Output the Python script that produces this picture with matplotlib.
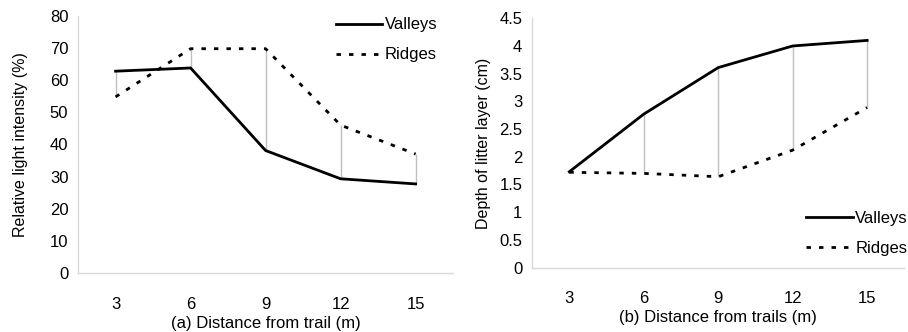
import matplotlib.pyplot as plt
import numpy as np

plt.rcParams["font.family"] = ["Liberation Sans", "DejaVu Sans"]

# Data
distances = ["3", "6", "9", "12", "15"]
light_valleys = [62.8, 63.8, 38.1, 29.3, 27.7]
light_ridges = [54.8, 69.8, 69.8, 46.0, 37.0]
litter_valleys = [1.73, 2.77, 3.61, 4.00, 4.10]
litter_ridges = [1.72, 1.70, 1.64, 2.12, 2.89]

GRID = "#bfbfbf"
DASH = (0, (1.6, 2.9))


def draw_panel(ax, valleys, ridges, ylim, yticks, ylabel, xlabel,
               legend_loc, legend_anchor, ylabelpad):
    x = np.arange(len(distances))
    # high-low lines between series
    ax.vlines(x, np.minimum(valleys, ridges), np.maximum(valleys, ridges),
              color=GRID, linewidth=1, zorder=1)
    ax.plot(x, valleys, color="black", linewidth=2, label="Valleys", zorder=3)
    ax.plot(x, ridges, color="black", linewidth=2, linestyle=DASH,
            label="Ridges", zorder=3)

    ax.set_xlim(-0.5, len(distances) - 0.5)
    ax.set_ylim(*ylim)
    ax.set_yticks(yticks)
    ax.set_yticklabels([f"{v:g}" for v in yticks])
    ax.set_xticks(x)
    ax.set_xticklabels(distances)
    ax.tick_params(length=0, labelsize=12, pad=7)
    ax.tick_params(axis="x", pad=17)
    for side in ["top", "right"]:
        ax.spines[side].set_visible(False)
    for side in ["left", "bottom"]:
        ax.spines[side].set_color("#d9d9d9")
        ax.spines[side].set_linewidth(1)
    ax.set_ylabel(ylabel, fontsize=11.5, labelpad=ylabelpad)
    ax.set_xlabel(xlabel, fontsize=12, labelpad=3)
    ax.legend(loc=legend_loc, bbox_to_anchor=legend_anchor, frameon=False,
              fontsize=12, handlelength=2.8, handletextpad=0.15,
              labelspacing=0.9, borderaxespad=0.0)


fig = plt.figure(figsize=(9.08, 3.32), dpi=100)
ax1 = fig.add_axes([0.086, 0.178, 0.413, 0.774])
ax2 = fig.add_axes([0.586, 0.194, 0.41, 0.751])

draw_panel(ax1, light_valleys, light_ridges, (0, 80), np.arange(0, 81, 10),
           "Relative light intensity (%)", "(a) Distance from trail (m)",
           "upper right", (0.976, 1.02), 16)
draw_panel(ax2, litter_valleys, litter_ridges, (0, 4.5), np.arange(0, 4.51, 0.5),
           "Depth of litter layer (cm)", "(b) Distance from trails (m)",
           "lower right", (1.027, 0.02), 6)

fig.savefig("out.png", dpi=100)
